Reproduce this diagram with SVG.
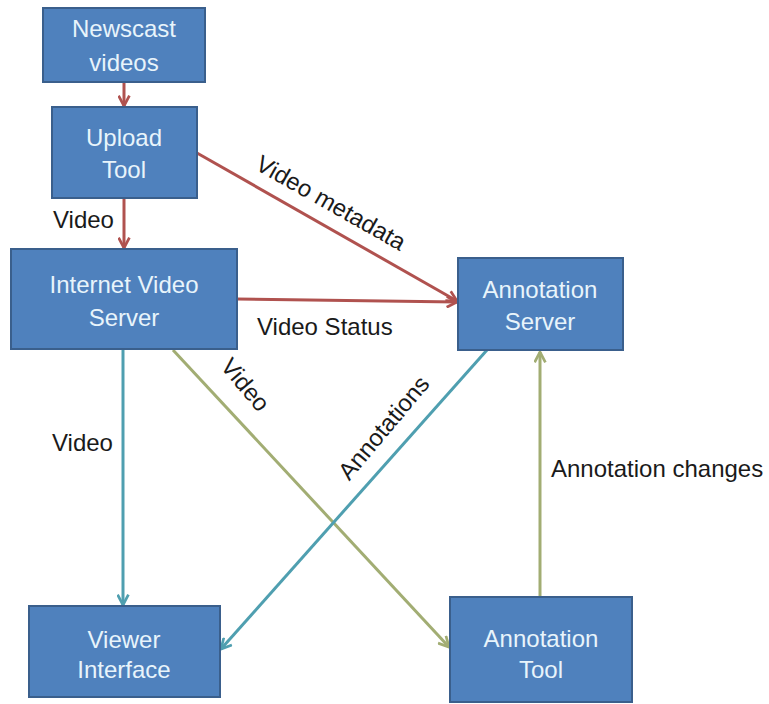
<svg xmlns="http://www.w3.org/2000/svg" width="769" height="704" viewBox="0 0 769 704">
<defs>
<style>
.box{fill:#4f81bd;stroke:#3a5f8c;stroke-width:2}
.bt{font-family:"Liberation Sans",Arial,sans-serif;font-size:24px;fill:#e8f4fb;text-anchor:middle}
.lb{font-family:"Liberation Sans",Arial,sans-serif;font-size:24px;fill:#1a1a1a}
.red{stroke:#b0524f;stroke-width:3;fill:none}
.teal{stroke:#4f9fb0;stroke-width:3;fill:none}
.olive{stroke:#a2ad73;stroke-width:3;fill:none}
</style>
<marker id="aRed" viewBox="0 0 12 12" refX="10.5" refY="6" markerWidth="13" markerHeight="13" markerUnits="userSpaceOnUse" orient="auto"><path d="M1,1 L10.5,6 L1,11" fill="none" stroke="#b0524f" stroke-width="2.5"/></marker>
<marker id="aTeal" viewBox="0 0 12 12" refX="10.5" refY="6" markerWidth="13" markerHeight="13" markerUnits="userSpaceOnUse" orient="auto"><path d="M1,1 L10.5,6 L1,11" fill="none" stroke="#4f9fb0" stroke-width="2.5"/></marker>
<marker id="aOlive" viewBox="0 0 12 12" refX="10.5" refY="6" markerWidth="13" markerHeight="13" markerUnits="userSpaceOnUse" orient="auto"><path d="M1,1 L10.5,6 L1,11" fill="none" stroke="#a2ad73" stroke-width="2.5"/></marker>
</defs>
<rect width="769" height="704" fill="#ffffff"/>
<g id="connectors">
<line class="red" x1="124" y1="82" x2="124" y2="106" marker-end="url(#aRed)"/>
<line class="red" x1="124" y1="198" x2="124" y2="248" marker-end="url(#aRed)"/>
<line class="red" x1="197" y1="153" x2="457" y2="301" marker-end="url(#aRed)"/>
<line class="red" x1="237" y1="299" x2="457" y2="302" marker-end="url(#aRed)"/>
<line class="teal" x1="123" y1="349" x2="123" y2="605" marker-end="url(#aTeal)"/>
<line class="olive" x1="173" y1="350" x2="449" y2="647" marker-end="url(#aOlive)"/>
<line class="teal" x1="487" y1="350" x2="221" y2="649" marker-end="url(#aTeal)"/>
<line class="olive" x1="540" y1="597" x2="540" y2="352" marker-end="url(#aOlive)"/>
<text class="lb" x="53" y="228">Video</text>
<text class="lb" transform="translate(327,210) rotate(29.5)" text-anchor="middle">Video metadata</text>
<text class="lb" x="257" y="335">Video Status</text>
<text class="lb" x="52" y="451">Video</text>
<text class="lb" transform="translate(239,390) rotate(50)" text-anchor="middle">Video</text>
<text class="lb" transform="translate(390,433) rotate(-50)" text-anchor="middle">Annotations</text>
<text class="lb" x="551" y="477">Annotation changes</text>
</g>
<g id="newscast">
<rect class="box" x="43" y="8" width="162" height="74"/>
<text class="bt" x="124" y="37">Newscast</text>
<text class="bt" x="124" y="71">videos</text>
</g>
<g id="upload-tool">
<rect class="box" x="52" y="107" width="145" height="91"/>
<text class="bt" x="124" y="146">Upload</text>
<text class="bt" x="124" y="178">Tool</text>
</g>
<g id="internet-video-server">
<rect class="box" x="11" y="249" width="226" height="100"/>
<text class="bt" x="124" y="293">Internet Video</text>
<text class="bt" x="124" y="326">Server</text>
</g>
<g id="annotation-server">
<rect class="box" x="458" y="258" width="165" height="92"/>
<text class="bt" x="540" y="298">Annotation</text>
<text class="bt" x="540" y="330">Server</text>
</g>
<g id="viewer-interface">
<rect class="box" x="29" y="606" width="191" height="91"/>
<text class="bt" x="124" y="648">Viewer</text>
<text class="bt" x="124" y="678">Interface</text>
</g>
<g id="annotation-tool">
<rect class="box" x="450" y="597" width="182" height="105"/>
<text class="bt" x="541" y="647">Annotation</text>
<text class="bt" x="541" y="678">Tool</text>
</g>
</svg>
